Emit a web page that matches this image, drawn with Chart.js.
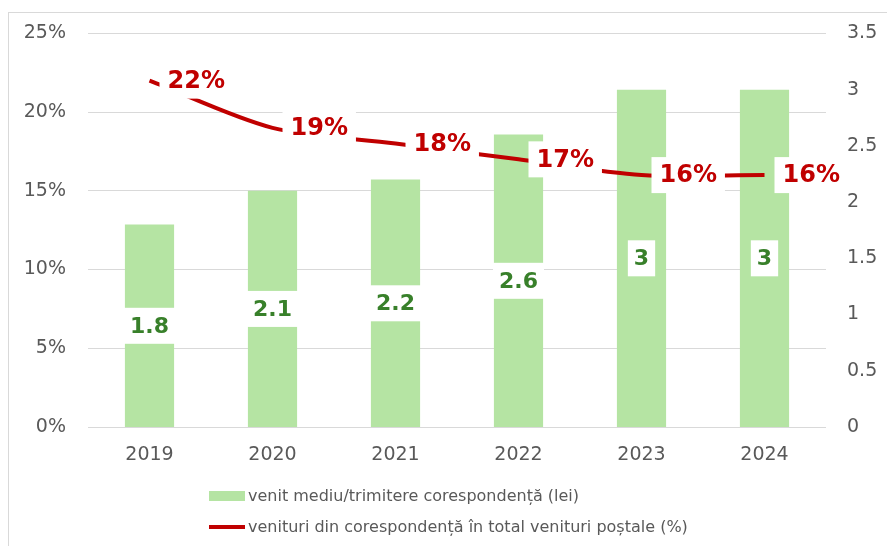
<!DOCTYPE html>
<html>
<head>
<meta charset="utf-8">
<script src="https://cdn.jsdelivr.net/npm/chart.js@4"></script>
<style>
  html, body { margin: 0; padding: 0; background: #fff; overflow: hidden; }
  #wrap { position: relative; width: 887px; height: 546px; }
  #frame { position: absolute; left: 8px; top: 12px; width: 1000px; height: 1000px; border: 1px solid #d9d9d9; box-sizing: border-box; }
  canvas { position: absolute; left: 0; top: 0; }
  .leg { position: absolute; left: 209px; font-family: "DejaVu Sans", sans-serif; font-size: 16px; color: #595959; white-space: nowrap; display: flex; align-items: center; }
  .sw { display: inline-block; width: 36px; margin-right: 3px; }
</style>
</head>
<body>
<div id="wrap">
  <div id="frame"></div>
  <canvas id="grafico" width="887" height="546"></canvas>
  <div class="leg" style="top:486px"><span class="sw" style="height:10px;background:#b5e4a3"></span><span id="leg1"></span></div>
  <div class="leg" style="top:517px"><span class="sw" style="height:4px;background:#c00000"></span><span id="leg2"></span></div>
</div>
<script>
const anii = ["2019", "2020", "2021", "2022", "2023", "2024"];
const venitMediu = [1.8, 2.1, 2.2, 2.6, 3, 3];
const pondere = [22, 19, 18, 17, 16, 16];
const numeBare = "venit mediu/trimitere corespondență (lei)";
const numeLinie = "venituri din corespondență în total venituri poștale (%)";

document.getElementById("leg1").textContent = numeBare;
document.getElementById("leg2").textContent = numeLinie;

const fontTicks = { family: "DejaVu Sans", size: 19 };
const culoareText = "#595959";

// etichete cu fundal alb pe bare si pe linie
const eticheteAlbe = {
    id: "eticheteAlbe",
    afterDatasetsDraw(chart) {
        const ctx = chart.ctx;
        ctx.save();
        ctx.textBaseline = "middle";

        const bare = chart.getDatasetMeta(1);
        ctx.font = "bold 22px 'DejaVu Sans'";
        bare.data.forEach((bar, i) => {
            const txt = String(venitMediu[i]);
            const w = ctx.measureText(txt).width + 12;
            const cy = (bar.y + bar.base) / 2;
            ctx.fillStyle = "#fff";
            ctx.fillRect(bar.x - w / 2, cy - 18, w, 36);
            ctx.fillStyle = "#38802a";
            ctx.textAlign = "center";
            ctx.fillText(txt, bar.x, cy + 1);
        });

        const linie = chart.getDatasetMeta(0);
        ctx.font = "bold 24px 'DejaVu Sans'";
        linie.data.forEach((pt, i) => {
            const txt = Math.round(pondere[i]) + "%";
            const w = ctx.measureText(txt).width + 16;
            const x0 = pt.x + 10;
            ctx.fillStyle = "#fff";
            ctx.fillRect(x0, pt.y - 18, w, 36);
            ctx.fillStyle = "#c00000";
            ctx.textAlign = "left";
            ctx.fillText(txt, x0 + 8, pt.y + 1);
        });
        ctx.restore();
    }
};

const ctx = document.getElementById("grafico").getContext("2d");
new Chart(ctx, {
    data: {
        labels: anii,
        datasets: [{
            type: "line",
            label: numeLinie,
            data: pondere,
            yAxisID: "y",
            borderColor: "#c00000",
            backgroundColor: "#c00000",
            borderWidth: 4,
            pointRadius: 0,
            tension: 0.3,
            order: 0
        }, {
            type: "bar",
            label: numeBare,
            data: venitMediu,
            yAxisID: "y2",
            backgroundColor: "#b5e4a3",
            barPercentage: 0.8,
            categoryPercentage: 0.5,
            order: 1
        }]
    },
    options: {
        responsive: false,
        animation: false,
        layout: { padding: { top: 33, bottom: 0, left: 0, right: 0 } },
        plugins: {
            legend: { display: false },
            tooltip: { enabled: false }
        },
        scales: {
            x: {
                grid: { display: false, drawTicks: false },
                border: { display: false },
                ticks: { font: fontTicks, color: culoareText, padding: 17 },
                afterFit: s => { s.height = 119; }
            },
            y: {
                position: "left",
                min: 0,
                max: 25,
                grid: { color: "#d9d9d9", lineWidth: 1, drawTicks: false },
                border: { display: false },
                ticks: { stepSize: 5, font: fontTicks, color: culoareText, padding: 22,
                    callback: v => v + "%" },
                afterFit: s => { s.width = 88; }
            },
            y2: {
                position: "right",
                min: 0,
                max: 3.5,
                grid: { display: false, drawTicks: false },
                border: { display: false },
                ticks: { stepSize: 0.5, font: fontTicks, color: culoareText, padding: 21,
                    callback: v => String(v) },
                afterFit: s => { s.width = 61; }
            }
        }
    },
    plugins: [eticheteAlbe]
});
</script>
</body>
</html>
